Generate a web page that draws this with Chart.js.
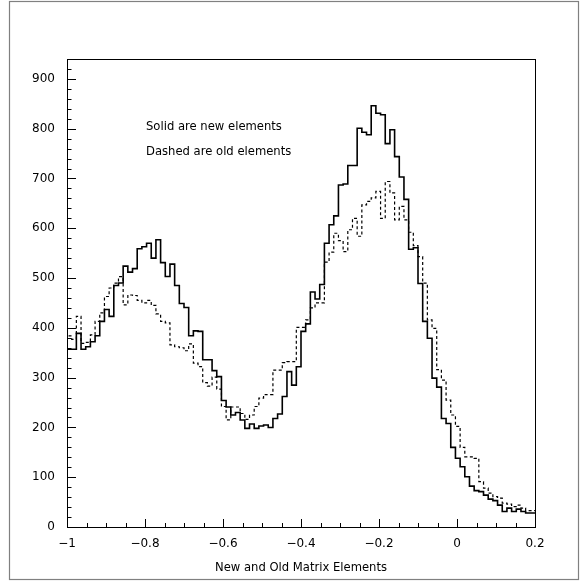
<!DOCTYPE html>
<html><head><meta charset="utf-8">
<script src="https://cdn.jsdelivr.net/npm/chart.js@4/dist/chart.umd.min.js"></script>
<style>html,body{margin:0;padding:0;background:#fff}#wrap{width:584px;height:582px;position:relative}</style>
</head><body><div id="wrap"><canvas id="c" width="584" height="582"></canvas></div>
<script>
// ---- data ----
const binLow = -1.0;
const binHigh = 0.2;
const xTickValues = [-1, -0.8, -0.6, -0.4, -0.2, 0, 0.2];
const xTickLabels = ['\u22121', '\u22120.8', '\u22120.6', '\u22120.4', '\u22120.2', '0', '0.2'];
const yTickValues = [0, 100, 200, 300, 400, 500, 600, 700, 800, 900];
const yTickLabels = ['0', '100', '200', '300', '400', '500', '600', '700', '800', '900'];
const legendLines = ['Solid are new elements', 'Dashed are old elements'];
const xTitle = 'New and Old Matrix Elements';

// solid histogram: new matrix elements (100 bins from -1 to 0.2)
const solidNew = [
  337, 357, 357, 389, 357, 362, 372, 384, 413, 437,
  423, 485, 490, 524, 512, 519, 559, 563, 570, 540,
  577, 531, 503, 528, 485, 449, 441, 384, 394, 393,
  336, 336, 314, 302, 254, 241, 225, 230, 215, 198,
  207, 198, 203, 205, 200, 218, 227, 262, 312, 285,
  322, 393, 408, 472, 458, 487, 570, 607, 625, 687,
  689, 726, 726, 801, 793, 788, 846, 831, 828, 770,
  798, 744, 703, 658, 558, 561, 489, 413, 379, 299,
  281, 218, 208, 160, 138, 121, 101, 82, 73, 71,
  64, 56, 53, 44, 31, 38, 31, 36, 31, 28
];
// dashed histogram: old matrix elements
const dashedOld = [
  365, 384, 377, 423, 369, 371, 386, 413, 430, 463,
  480, 490, 503, 446, 466, 465, 455, 450, 455, 445,
  428, 413, 410, 366, 362, 360, 354, 368, 329, 322,
  290, 283, 301, 277, 242, 215, 241, 241, 228, 216,
  225, 242, 259, 266, 266, 315, 315, 330, 332, 332,
  401, 401, 416, 440, 450, 450, 532, 552, 590, 575,
  553, 597, 620, 584, 647, 654, 661, 674, 620, 694,
  671, 617, 644, 617, 592, 565, 543, 490, 416, 399,
  316, 295, 255, 225, 202, 160, 141, 141, 138, 91,
  78, 68, 61, 58, 48, 46, 41, 44, 38, 33
];

function histPoints(vals) {
  const w = (binHigh - binLow) / vals.length;
  const pts = vals.map((v, i) => ({ x: binLow + i * w, y: v }));
  pts.push({ x: binHigh, y: vals[vals.length - 1] });
  return pts;
}

const decor = {
  id: 'decor',
  afterDraw(chart) {
    const { ctx, chartArea: a, scales } = chart;
    const xs = scales.x, ys = scales.y;
    ctx.save();
    // outer page frame
    ctx.strokeStyle = '#808080';
    ctx.lineWidth = 1.2;
    ctx.strokeRect(9.5, 1.5, 569, 578);
    // plot frame
    ctx.strokeStyle = '#000';
    ctx.lineWidth = 1;
    ctx.strokeRect(Math.round(a.left) + 0.5, Math.round(a.top) + 0.5, Math.round(a.right - a.left), Math.round(a.bottom - a.top));
    // y ticks (inward)
    ctx.beginPath();
    for (let v = 0; v <= ys.max + 0.001; v += 20) {
      const y = Math.round(ys.getPixelForValue(v)) + 0.5;
      const len = (v % 100 === 0) ? 9 : 4.5;
      ctx.moveTo(a.left, y); ctx.lineTo(a.left + len, y);
    }
    // x ticks (inward)
    for (let k = 0; k <= 24; k++) {
      const v = binLow + k * 0.05;
      const x = Math.round(xs.getPixelForValue(v)) + 0.5;
      const len = (k % 4 === 0) ? 8 : 4;
      ctx.moveTo(x, a.bottom); ctx.lineTo(x, a.bottom - len);
    }
    ctx.stroke();
    // annotation text
    ctx.fillStyle = '#000';
    ctx.font = '11.6px "DejaVu Sans"';
    ctx.textBaseline = 'middle';
    ctx.textAlign = 'left';
    ctx.fillText(legendLines[0], 146, 127);
    ctx.fillText(legendLines[1], 146, 152);
    ctx.restore();
  }
};

new Chart(document.getElementById('c'), {
  type: 'line',
  data: {
    datasets: [
      { label: 'Solid are new elements', data: histPoints(solidNew), borderColor: '#000', borderWidth: 1.6,
        stepped: 'after', pointRadius: 0, fill: false },
      { label: 'Dashed are old elements', data: histPoints(dashedOld), borderColor: '#000', borderWidth: 1.2,
        borderDash: [3, 2.5], stepped: 'after', pointRadius: 0, fill: false }
    ]
  },
  options: {
    responsive: false,
    animation: false,
    events: [],
    layout: { padding: { left: 0, right: 49, top: 59, bottom: 0 } },
    plugins: { legend: { display: false }, tooltip: { enabled: false } },
    scales: {
      x: {
        type: 'linear', min: binLow, max: binHigh,
        grid: { display: false, drawTicks: false }, border: { display: false },
        afterBuildTicks: s => { s.ticks = xTickValues.map(v => ({ value: v })); },
        afterFit: s => { s.height = 55; },
        ticks: {
          padding: 10, color: '#000', maxRotation: 0, autoSkip: false,
          font: { family: 'DejaVu Sans', size: 12 },
          callback: (v) => { const i = xTickValues.findIndex(t => Math.abs(t - v) < 1e-6); return i >= 0 ? xTickLabels[i] : ''; }
        },
        title: { display: true, text: xTitle, color: '#000', font: { family: 'DejaVu Sans', size: 11.6 }, padding: { top: 0, bottom: 7 } }
      },
      y: {
        type: 'linear', min: 0, max: 940,
        grid: { display: false, drawTicks: false }, border: { display: false },
        afterBuildTicks: s => { s.ticks = yTickValues.map(v => ({ value: v })); },
        afterFit: s => { s.width = 67; },
        ticks: {
          padding: 12, color: '#000',
          font: { family: 'DejaVu Sans', size: 12 },
          callback: (v) => { const i = yTickValues.indexOf(v); return i >= 0 ? yTickLabels[i] : ''; }
        }
      }
    }
  },
  plugins: [decor]
});
</script>
</body></html>
